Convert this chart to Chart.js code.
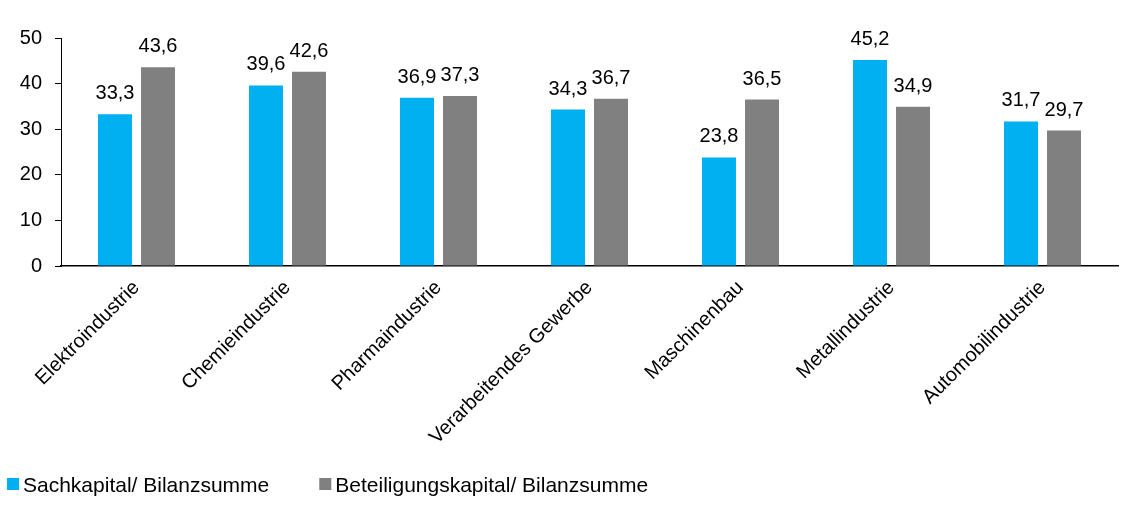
<!DOCTYPE html>
<html>
<head>
<meta charset="utf-8">
<script src="https://cdn.jsdelivr.net/npm/chart.js@4.4.0/dist/chart.umd.min.js"></script>
<style>
  html, body { margin: 0; padding: 0; background: #fff; }
  #wrap { width: 1128px; height: 506px; }
</style>
</head>
<body>
<div id="wrap"><canvas id="chart" width="1128" height="506"></canvas></div>
<script>
const categories = ['Elektroindustrie', 'Chemieindustrie', 'Pharmaindustrie', 'Verarbeitendes Gewerbe', 'Maschinenbau', 'Metallindustrie', 'Automobilindustrie'];
const sachkapital = [33.3, 39.6, 36.9, 34.3, 23.8, 45.2, 31.7];
const beteiligung = [43.6, 42.6, 37.3, 36.7, 36.5, 34.9, 29.7];
const yTicks = [0, 10, 20, 30, 40, 50];

const fontFamily = '"Liberation Sans", Arial, sans-serif';

// Werte über den Balken zeichnen (mit Komma)
const valueLabels = {
    id: 'valueLabels',
    afterDatasetsDraw(chart) {
        const ctx = chart.ctx;
        ctx.save();
        ctx.font = '20px ' + fontFamily;
        ctx.fillStyle = '#000';
        ctx.textAlign = 'center';
        ctx.textBaseline = 'alphabetic';
        chart.data.datasets.forEach((ds, i) => {
            chart.getDatasetMeta(i).data.forEach((bar, j) => {
                const txt = ds.data[j].toFixed(1).replace('.', ',');
                ctx.fillText(txt, bar.x, bar.y - 15);
            });
        });
        ctx.restore();
    }
};

// eigene Legende unten links
const bottomLegend = {
    id: 'bottomLegend',
    afterDraw(chart) {
        const ctx = chart.ctx;
        ctx.save();
        ctx.font = '21px ' + fontFamily;
        ctx.textBaseline = 'alphabetic';
        ctx.textAlign = 'left';
        let x = 7;
        chart.data.datasets.forEach(ds => {
            ctx.fillStyle = ds.backgroundColor;
            ctx.fillRect(x, 478, 12, 12);
            ctx.fillStyle = '#000';
            ctx.fillText(ds.label, x + 16, 492);
            x += 16 + ctx.measureText(ds.label).width + 50;
        });
        ctx.restore();
    }
};

const ctx = document.getElementById('chart').getContext('2d');
new Chart(ctx, {
    type: 'bar',
    data: {
        labels: categories,
        datasets: [{
            label: 'Sachkapital/ Bilanzsumme',
            data: sachkapital,
            backgroundColor: '#00b0f0',
            barPercentage: 0.79,
            categoryPercentage: 0.57
        }, {
            label: 'Beteiligungskapital/ Bilanzsumme',
            data: beteiligung,
            backgroundColor: '#808080',
            barPercentage: 0.79,
            categoryPercentage: 0.57
        }]
    },
    options: {
        responsive: false,
        animation: false,
        layout: { padding: { top: 38, right: 10, left: 8, bottom: 42 } },
        plugins: {
            legend: { display: false },
            tooltip: { enabled: false }
        },
        scales: {
            x: {
                grid: { display: false },
                border: { color: '#000', width: 1.5 },
                ticks: {
                    font: { size: 20, family: fontFamily },
                    color: '#000',
                    minRotation: 45,
                    maxRotation: 45,
                    padding: 2
                },
                afterFit(scale) { scale.height = 198; }
            },
            y: {
                min: 0,
                max: 50,
                afterBuildTicks(scale) { scale.ticks = yTicks.map(v => ({ value: v })); },
                grid: { drawOnChartArea: false, tickLength: 6, color: '#000' },
                border: { color: '#000', width: 1 },
                ticks: {
                    font: { size: 20, family: fontFamily },
                    color: '#000',
                    padding: 13
                },
                afterFit(scale) { scale.width = 53; }
            }
        }
    },
    plugins: [valueLabels, bottomLegend]
});
</script>
</body>
</html>
